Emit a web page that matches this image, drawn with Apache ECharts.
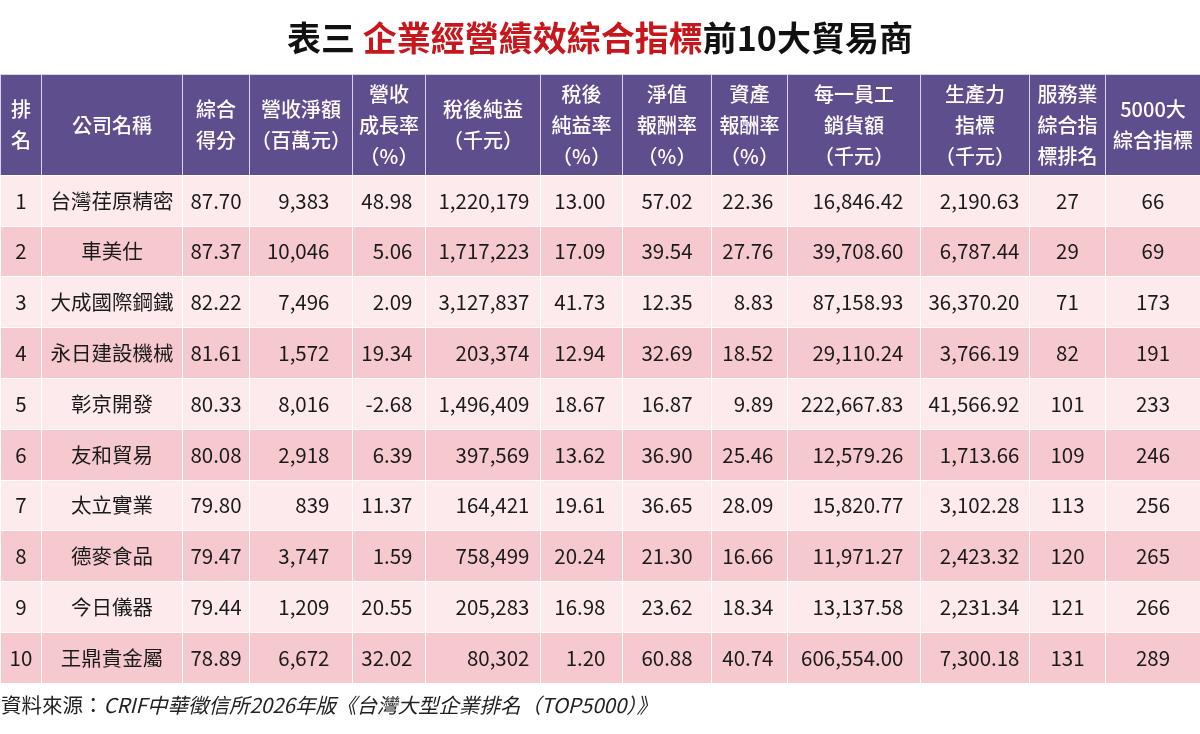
<!DOCTYPE html>
<html>
<head>
<meta charset="utf-8">
<script src="https://cdn.jsdelivr.net/npm/echarts@6/dist/echarts.min.js"></script>
<style>
  html, body { margin: 0; padding: 0; background: #fff; }
  #main { width: 1200px; height: 734px; }
</style>
</head>
<body>
<div id="main"></div>
<script>
var myChart = echarts.init(document.getElementById('main'));

// 欄位標題
var headers = [
  '排\n名', '公司名稱', '綜合\n得分', '營收淨額\n（百萬元）', '營收\n成長率\n（%）',
  '稅後純益\n（千元）', '稅後\n純益率\n（%）', '淨值\n報酬率\n（%）', '資產\n報酬率\n（%）',
  '每一員工\n銷貨額\n（千元）', '生產力\n指標\n（千元）', '服務業\n綜合指\n標排名', '5000大\n綜合指標'
];

var ranks = [1, 2, 3, 4, 5, 6, 7, 8, 9, 10];
var companies = ['台灣荏原精密', '車美仕', '大成國際鋼鐵', '永日建設機械', '彰京開發',
  '友和貿易', '太立實業', '德麥食品', '今日儀器', '王鼎貴金屬'];
var scores = [87.70, 87.37, 82.22, 81.61, 80.33, 80.08, 79.80, 79.47, 79.44, 78.89];
var revenue = [9383, 10046, 7496, 1572, 8016, 2918, 839, 3747, 1209, 6672];
var revenueGrowth = [48.98, 5.06, 2.09, 19.34, -2.68, 6.39, 11.37, 1.59, 20.55, 32.02];
var netIncome = [1220179, 1717223, 3127837, 203374, 1496409, 397569, 164421, 758499, 205283, 80302];
var netMargin = [13.00, 17.09, 41.73, 12.94, 18.67, 13.62, 19.61, 20.24, 16.98, 1.20];
var roe = [57.02, 39.54, 12.35, 32.69, 16.87, 36.90, 36.65, 21.30, 23.62, 60.88];
var roa = [22.36, 27.76, 8.83, 18.52, 9.89, 25.46, 28.09, 16.66, 18.34, 40.74];
var salesPerEmployee = [16846.42, 39708.60, 87158.93, 29110.24, 222667.83, 12579.26, 15820.77, 11971.27, 13137.58, 606554.00];
var productivity = [2190.63, 6787.44, 36370.20, 3766.19, 41566.92, 1713.66, 3102.28, 2423.32, 2231.34, 7300.18];
var serviceRank = [27, 29, 71, 82, 101, 109, 113, 120, 121, 131];
var top5000Rank = [66, 69, 173, 191, 233, 246, 256, 265, 266, 289];

var columns = [ranks, companies, scores, revenue, revenueGrowth, netIncome, netMargin,
  roe, roa, salesPerEmployee, productivity, serviceRank, top5000Rank];
var decimals = [0, null, 2, 0, 2, 0, 2, 2, 2, 2, 2, 0, 0];

// 版面
var colWidths = [41, 141, 67, 103, 73, 115, 82, 89, 76, 133, 109, 76, 95];
var aligns = ['c', 'c', 'c', 'r', 'r', 'r', 'r', 'c', 'r', 'r', 'r', 'c', 'c'];
var rightPad = [0, 0, 0, 20, 10, 8, 14, 0, 11, 14, 7, 0, 0];
var rowColors = ['#fdeaec', '#f6c9ce'];
var fontFamily = '"Noto Sans CJK TC", "Noto Sans", sans-serif';

function fmt(v, d) {
  if (d == null) return v;
  return v.toLocaleString('en-US', { minimumFractionDigits: d, maximumFractionDigits: d });
}

var rowKeys = ranks.map(function (r) { return 'r' + r; });

var cells = [];
for (var r = 0; r < rowKeys.length; r++) {
  for (var c = 0; c < headers.length; c++) {
    var label = {
      show: true,
      color: '#1a1a1a',
      fontSize: 20.5,
      fontFamily: fontFamily,
      overflow: 'none'
    };
    if (aligns[c] === 'r') {
      label.position = 'insideRight';
      label.distance = rightPad[c];
    }
    cells.push({
      coord: [headers[c], rowKeys[r]],
      value: fmt(columns[c][r], decimals[c]),
      itemStyle: { color: rowColors[r % 2], borderColor: '#ffffff', borderWidth: 1 },
      label: label
    });
  }
}

var option = {
  backgroundColor: '#ffffff',
  title: [{
    left: 'center',
    top: 16,
    text: '{a|表三 }{b|企業經營績效綜合指標}{a|前10大貿易商}',
    textStyle: {
      rich: {
        a: { fontSize: 34, fontWeight: 'bold', color: '#111', fontFamily: fontFamily },
        b: { fontSize: 34, fontWeight: 'bold', color: '#c8161d', fontFamily: fontFamily }
      }
    }
  }, {
    left: 1,
    top: 695,
    padding: 0,
    text: '{n|資料來源：}{i|CRIF中華徵信所2026年版《台灣大型企業排名（TOP5000）》}',
    textStyle: {
      fontWeight: 'normal',
      rich: {
        n: { fontSize: 20.5, fontWeight: 'normal', color: '#222', fontFamily: fontFamily },
        i: { fontSize: 20.5, fontWeight: 'normal', color: '#222', fontStyle: 'italic', fontFamily: fontFamily }
      }
    }
  }],
  matrix: {
    left: 0,
    top: 74,
    width: 1200,
    height: 609,
    backgroundStyle: { color: '#fff', borderWidth: 0 },
    x: {
      data: headers.map(function (h, i) { return { value: h, size: colWidths[i] }; }),
      levelSize: 101,
      itemStyle: { color: '#5e4e8e', borderColor: '#d9d3ea', borderWidth: 1 },
      label: { color: '#fff', fontSize: 20, fontWeight: 500, lineHeight: 31, fontFamily: fontFamily, overflow: 'none' },
      dividerLineStyle: { color: '#ffffff', width: 1 }
    },
    y: {
      show: false,
      data: rowKeys
    },
    body: {
      data: cells,
      itemStyle: { borderColor: '#ffffff', borderWidth: 1 }
    }
  }
};

myChart.setOption(option);
window.onresize = myChart.resize;
</script>
</body>
</html>
